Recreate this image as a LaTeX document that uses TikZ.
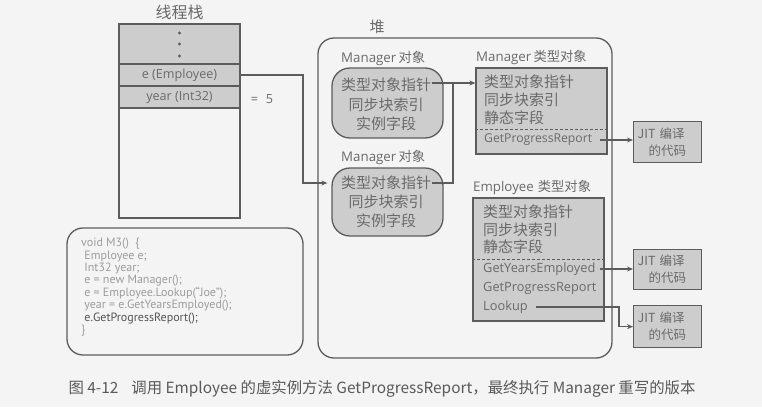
\documentclass[tikz,border=0pt]{standalone}
\usepackage{fontspec}
\setmainfont{Open Sans}
\newfontfamily\cjkfont{Noto Sans CJK SC}
\newfontfamily\codefont{PT Sans}
\usetikzlibrary{arrows.meta}
\definecolor{pagebg}{HTML}{F4F4F4}
\definecolor{boxfill}{HTML}{CDCDCD}
\definecolor{edge}{HTML}{5C5C5C}
\definecolor{ink}{HTML}{6A6A6A}
\definecolor{codeink}{HTML}{9C9C9C}
\newcommand\zhs[1]{{\cjkfont #1}}

\tikzset{
  box/.style={draw=edge, line width=1.3pt, fill=boxfill, inner sep=0pt},
  objbox/.style={box, rounded corners=18pt, minimum width=111pt},
  regionbox/.style={draw=edge, line width=1.3pt, rounded corners=16pt},
  zhline/.style={text=ink, inner sep=0pt, font=\cjkfont\fontsize{15}{15}\selectfont},
  enline/.style={text=ink, inner sep=0pt, anchor=west, font=\fontsize{12.2}{13}\selectfont},
  label/.style={text=ink, inner sep=0pt, anchor=west, font=\fontsize{13.3}{14}\selectfont},
  conn/.style={draw=edge, line width=1.2pt},
  arr/.style={conn, -{Stealth[length=6pt,width=5pt]}},
  jitbox/.style={box, minimum width=68pt, align=left, text=ink, anchor=north west,
    font=\cjkfont\fontsize{12.5}{17}\selectfont, text width=60pt},
}

\begin{document}
\begin{tikzpicture}[x=1pt,y=-1pt]
\fill[pagebg] (0,0) rectangle (762,407);
\useasboundingbox (0,0) rectangle (762,407);

% ---------- thread stack ----------
\node[text=ink, font=\cjkfont\fontsize{16}{16}\selectfont] (stacktitle) at (179.5,12) {线程栈};
\node[box, minimum width=121pt, minimum height=40pt] (dots) at (179.5,44) {};
\foreach \yy in {33,44,56} \fill[edge] (179.5,\yy) circle (1.6pt);
\node[box, minimum width=121pt, minimum height=22pt, text=ink,
      font=\fontsize{12.6}{13}\selectfont] (erow) at (179.5,75) {e (Employee)};
\node[box, minimum width=121pt, minimum height=22pt, text=ink,
      font=\fontsize{12.6}{13}\selectfont] (yearrow) at (179.5,97) {year (Int32)};
\node[draw=edge, line width=1.3pt, minimum width=121pt, minimum height=110pt,
      inner sep=0pt] (stackfree) at (179.5,163) {};
\node[text=ink, font=\fontsize{12.6}{13}\selectfont] (yearval) at (262,99) {=\hspace{8pt}5};

% ---------- heap ----------
\node[regionbox, minimum width=294pt, minimum height=320pt, inner sep=0pt] (heap) at (465,198) {};
\node[text=ink, font=\cjkfont\fontsize{15}{15}\selectfont] (heaptitle) at (377,27) {堆};

% Manager object #1
\node[label] (m1label) at (341,58) {Manager\,\zhs{对象}};
\node[objbox, minimum height=70pt] (m1) at (387.5,103) {};
\node[zhline] (m1ptr) at (386,85) {类型对象指针};
\node[zhline] (m1sync) at (386,105) {同步块索引};
\node[zhline] (m1inst) at (386,124) {实例字段};

% Manager object #2
\node[label] (m2label) at (341,157) {Manager\,\zhs{对象}};
\node[objbox, minimum height=68pt] (m2) at (387.5,202) {};
\node[zhline] (m2ptr) at (386,183) {类型对象指针};
\node[zhline] (m2sync) at (386,202) {同步块索引};
\node[zhline] (m2inst) at (386,221) {实例字段};

% Manager type object
\node[label] (mtlabel) at (476,57) {Manager\,\zhs{类型对象}};
\node[box, minimum width=131pt, minimum height=86pt] (mtype) at (541.5,111) {};
\draw[edge, line width=1pt, dash pattern=on 3pt off 2pt] (mtype.west |- 0,129) -- (mtype.east |- 0,129);
\node[zhline, anchor=west] (mtptr) at (484,82) {类型对象指针};
\node[zhline, anchor=west] (mtsync) at (484,100) {同步块索引};
\node[zhline, anchor=west] (mtstatic) at (484,118) {静态字段};
\node[enline] (mtgpr) at (484,140) {GetProgressReport};

% Employee type object
\node[label] (etlabel) at (473,187) {Employee\hspace{4pt}\zhs{类型对象}};
\node[box, minimum width=131pt, minimum height=123pt] (etype) at (538.5,259.5) {};
\draw[edge, line width=1pt, dash pattern=on 3pt off 2pt] (etype.west |- 0,259) -- (etype.east |- 0,259);
\node[zhline, anchor=west] (etptr) at (483,212) {类型对象指针};
\node[zhline, anchor=west] (etsync) at (483,230) {同步块索引};
\node[zhline, anchor=west] (etstatic) at (483,247) {静态字段};
\node[enline, font=\fontsize{12.8}{13}\selectfont] (etgye) at (483,269) {GetYearsEmployed};
\node[enline, font=\fontsize{12.8}{13}\selectfont] (etgpr) at (483,288) {GetProgressReport};
\node[enline, font=\fontsize{12.8}{13}\selectfont] (etlookup) at (483,307) {Lookup};

% JIT compiled code
\node[jitbox, minimum height=41pt] (jit1) at (633,121) {JIT 编译\\\hspace{11pt}的代码};
\node[jitbox, minimum height=40pt] (jit2) at (633,249) {JIT 编译\\\hspace{11pt}的代码};
\node[jitbox, minimum height=42pt] (jit3) at (633,305) {JIT 编译\\\hspace{11pt}的代码};

% ---------- source code ----------
\node[regionbox, minimum width=236pt, minimum height=127pt, inner sep=0pt] (code) at (185,291.5) {};
\node[anchor=north west, align=left, inner sep=0pt, text=codeink,
      font=\codefont\fontsize{12}{12.4}\selectfont] (codetext) at (81,238)
  {void M3()\ \ \{\\
   \ Employee e;\\
   \ Int32 year;\\
   \ e = new Manager();\\
   \ e = Employee.Lookup(“Joe”);\\
   \ year = e.GetYearsEmployed();\\
   \ \textcolor{ink!80!black}{e.GetProgressReport();}\\
   \}};

% ---------- connectors ----------
\coordinate (ebend) at (303,75);
\coordinate (mjoin) at (453,83);
\coordinate (lbend) at (619,307);
\draw[arr] (erow.east) -- (ebend) |- ([xshift=-4pt]m2.west |- m2ptr);
\draw[conn] ([xshift=1pt]m2ptr.east) -| (mjoin);
\draw[arr] ([xshift=1pt]m1ptr.east |- mjoin) -- (mtype.west |- mjoin);
\draw[arr] ([xshift=8pt]mtgpr.east) -- (jit1.west |- mtgpr);
\draw[arr] ([xshift=4pt]etgye.east) -- (jit2.west |- etgye);
\draw[arr] ([xshift=8pt]etlookup.east) -- (lbend) |- (jit3.west);

% ---------- caption ----------
\node[text=black!65, font=\cjkfont\fontsize{15.4}{16}\selectfont, anchor=west] (caption) at (65,389)
  {图 4-12\hspace{13pt}调用 Employee 的虚实例方法 GetProgressReport，最终执行 Manager 重写的版本};
\end{tikzpicture}
\end{document}
